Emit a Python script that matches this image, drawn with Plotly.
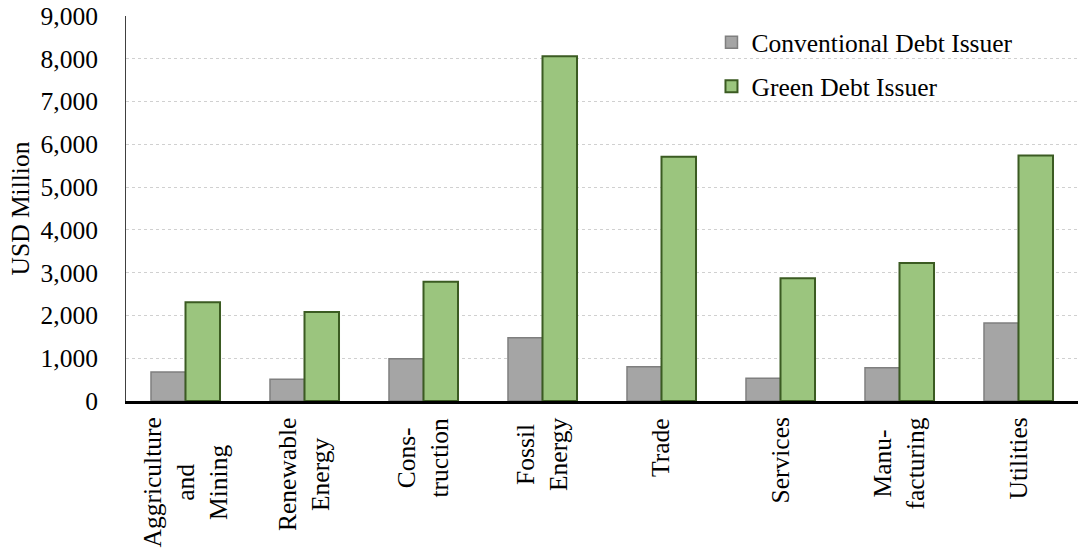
import plotly.graph_objects as go

# Sector categories and amounts issued (USD million)
sectors = ["Aggriculture and Mining", "Renewable Energy", "Cons- truction", "Fossil Energy",
           "Trade", "Services", "Manu- facturing", "Utilities"]
label_lines = [["Aggriculture", "and", "Mining"], ["Renewable", "Energy"], ["Cons-", "truction"],
               ["Fossil", "Energy"], ["Trade"], ["Services"], ["Manu-", "facturing"], ["Utilities"]]
conventional = [680, 510, 985, 1480, 800, 530, 780, 1825]
green = [2310, 2080, 2790, 8060, 5710, 2870, 3225, 5740]
y_ticks = [0, 1000, 2000, 3000, 4000, 5000, 6000, 7000, 8000, 9000]

FONT = "Liberation Serif, Times New Roman, serif"
FS = 25.5

fig = go.Figure()
fig.add_trace(go.Bar(
    x=sectors, y=conventional, name="Conventional Debt Issuer", legendgroup="a",
    marker=dict(color="#A5A5A5", line=dict(color="#7F7F7F", width=1.5)),
))
fig.add_trace(go.Bar(
    x=sectors, y=green, name="Green Debt Issuer", legendgroup="b",
    marker=dict(color="#9BC57E", line=dict(color="#3B5B22", width=2)),
))

# Category labels, rotated with centred lines
for cat, lines in zip(sectors, label_lines):
    fig.add_annotation(
        x=cat, xref="x", y=0, yref="paper", yanchor="top", yshift=-15, xshift=-1,
        text="<br>".join(lines), textangle=-90, align="center", showarrow=False,
        font=dict(family=FONT, size=FS, color="black"),
    )

fig.update_layout(
    width=1078, height=553,
    margin=dict(l=126, r=0, t=16, b=152),
    paper_bgcolor="white", plot_bgcolor="white",
    barmode="group", bargap=0.42, bargroupgap=0,
    font=dict(family=FONT, size=FS, color="black"),
    showlegend=True,
    legend=dict(
        x=0.615, y=0.992, xanchor="left", yanchor="top",
        bgcolor="rgba(0,0,0,0)", traceorder="grouped", tracegroupgap=8,
        font=dict(family=FONT, size=FS, color="black"),
    ),
    xaxis=dict(
        showticklabels=False, ticks="", showgrid=False,
        showline=True, linecolor="black", linewidth=2.5,
    ),
    yaxis=dict(
        range=[0, 9000], tickvals=y_ticks, tickformat=",d",
        showgrid=True, gridcolor="#D0D0D0", gridwidth=1, griddash="dot",
        showline=True, linecolor="#404040", linewidth=1,
        ticks="", ticklabelstandoff=22, zeroline=False,
        title=dict(text="USD Million", standoff=3, font=dict(family=FONT, size=FS)),
        tickfont=dict(family=FONT, size=FS),
    ),
)

fig.write_html("out.html")
